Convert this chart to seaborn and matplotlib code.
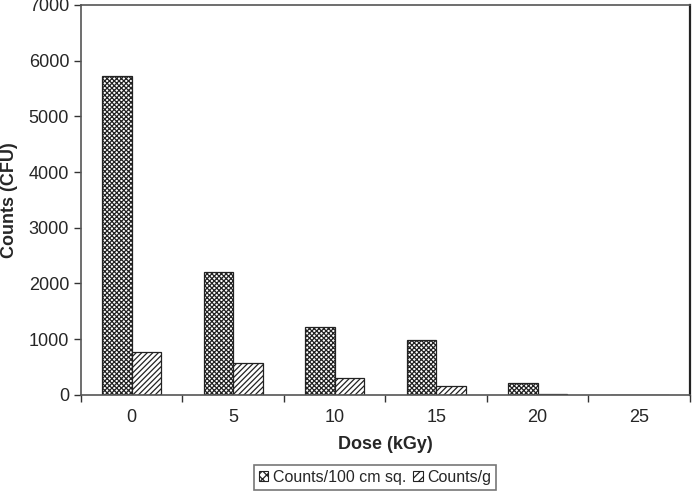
import pandas as pd
import numpy as np
import matplotlib.pyplot as plt
import seaborn as sns

# values
doses = ['0', '5', '10', '15', '20', '25']
counts_area = [5730, 2210, 1225, 985, 220, 0]
counts_gram = [765, 570, 300, 160, 25, 0]
series_names = ['Counts/100 cm sq.', 'Counts/g']

df = pd.DataFrame({
    'Dose': doses * 2,
    'Counts': counts_area + counts_gram,
    'Series': [series_names[0]] * len(doses) + [series_names[1]] * len(doses),
})

sns.set_theme(style='ticks')
plt.rcParams['font.family'] = ['Liberation Sans', 'DejaVu Sans']
plt.rcParams['hatch.linewidth'] = 0.9
plt.rcParams['hatch.color'] = 'black'

fig = plt.figure(figsize=(6.92, 4.93), dpi=100)
ax = fig.add_axes([0.117, 0.199, 0.880, 0.791])

sns.barplot(data=df, x='Dose', y='Counts', hue='Series', order=doses,
            hue_order=series_names, palette=['white', 'white'],
            width=0.58, gap=0, edgecolor='#222222', linewidth=0.9,
            errorbar=None, legend=False, ax=ax)

hatches = ['xxxxxxx', '//////']
for container, hatch in zip(ax.containers, hatches):
    for bar in container:
        bar.set_hatch(hatch)

ax.set_ylim(0, 7000)
ax.set_xlim(-0.5, len(doses) - 0.5)
ax.set_yticks(np.arange(0, 7001, 1000))
ax.tick_params(axis='y', labelsize=13, length=5, width=1, color='#333333')
# x tick marks sit between categories, labels sit at the centers
ax.set_xticks(np.arange(len(doses)))
ax.set_xticklabels(doses)
ax.tick_params(axis='x', which='major', length=0, labelsize=13, pad=10)
ax.set_xticks(np.arange(-0.5, len(doses), 1.0), minor=True)
ax.tick_params(axis='x', which='minor', length=5, width=1, color='#333333')

ax.set_xlabel('Dose (kGy)', fontsize=13, fontweight='bold', labelpad=7)
ax.set_ylabel('Counts (CFU)', fontsize=13, fontweight='bold', labelpad=8)

for side in ['left', 'bottom', 'top']:
    ax.spines[side].set_color('#555555')
    ax.spines[side].set_linewidth(1.2)
ax.spines['right'].set_color('#222222')
ax.spines['right'].set_linewidth(1.6)

handles = [plt.Rectangle((0, 0), 1, 1, facecolor='white', edgecolor='#222222',
                         hatch=h, linewidth=0.8) for h in ['xxxx', '////']]
leg = fig.legend(handles, series_names, loc='center', ncol=2,
                 bbox_to_anchor=(0.542, 0.032), frameon=True, fancybox=False,
                 edgecolor='#555555', fontsize=11.5, handlelength=0.6,
                 handleheight=0.6, handletextpad=0.3, columnspacing=0.4,
                 borderpad=0.3, borderaxespad=0.2)
leg.get_frame().set_linewidth(1.2)

fig.savefig('out.png', dpi=100)
